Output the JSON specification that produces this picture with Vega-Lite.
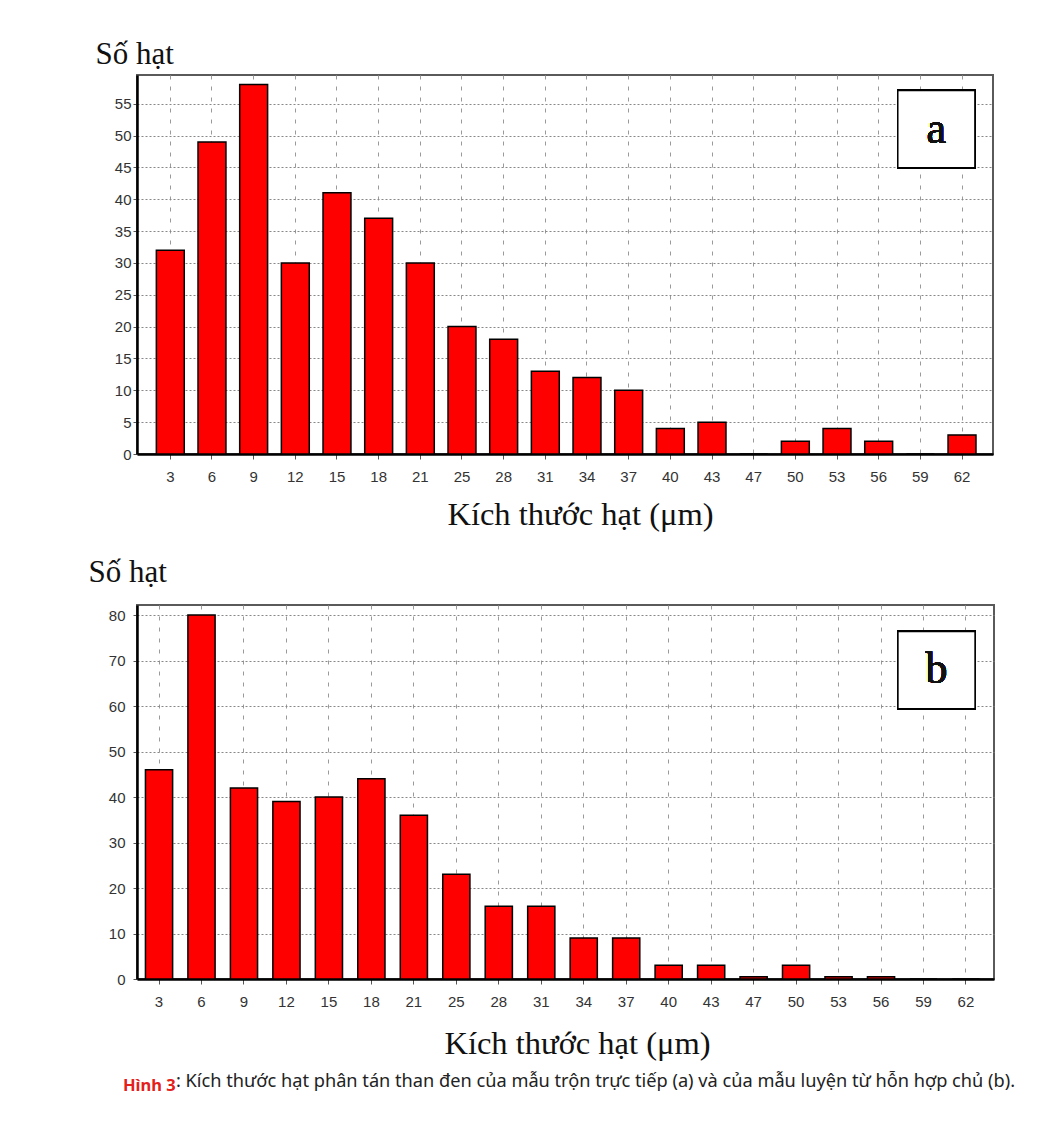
{
  "$schema": "https://vega.github.io/schema/vega-lite/v6.json",
  "background": "white",
  "padding": {"left": 87, "top": 37, "right": 40, "bottom": 30},
  "columns": 1,
  "spacing": 23,
  "title": {
    "text": ": Kích thước hạt phân tán than đen của mẫu trộn trực tiếp (a) và của mẫu luyện từ hỗn hợp chủ (b).",
    "orient": "bottom",
    "anchor": "start",
    "frame": "group",
    "dx": 39,
    "dy": -30,
    "offset": 8,
    "font": "Noto Sans",
    "fontSize": 18.2,
    "fontWeight": "normal",
    "color": "#222222"
  },
  "concat": [
    {
      "width": 856,
      "height": 379,
      "data": {"values": [
        {"size": 3, "count": 32}, {"size": 6, "count": 49}, {"size": 9, "count": 58}, {"size": 12, "count": 30},
        {"size": 15, "count": 41}, {"size": 18, "count": 37}, {"size": 21, "count": 30}, {"size": 25, "count": 20},
        {"size": 28, "count": 18}, {"size": 31, "count": 13}, {"size": 34, "count": 12}, {"size": 37, "count": 10},
        {"size": 40, "count": 4}, {"size": 43, "count": 5}, {"size": 47, "count": 0}, {"size": 50, "count": 2},
        {"size": 53, "count": 4}, {"size": 56, "count": 2}, {"size": 59, "count": 0}, {"size": 62, "count": 3}
      ]},
      "layer": [
        {
          "mark": {"type": "bar", "fill": "#ff0000", "stroke": "#000000", "strokeWidth": 1.5},
          "encoding": {
            "x": {
              "field": "size", "type": "ordinal",
              "scale": {"paddingInner": 0.33, "paddingOuter": 0.4365, "align": 0.532},
              "axis": {
                "title": "Kích thước hạt (μm)",
                "titleFont": "Liberation Serif", "titleFontSize": 32.5, "titleFontWeight": "normal", "titleColor": "#111111",
                "titleX": 443, "titleY": 70, "titleBaseline": "alphabetic", "titleAlign": "center",
                "labelAngle": 0, "labelFont": "Liberation Sans", "labelFontSize": 15, "labelColor": "#333333",
                "labelPadding": 10, "tickSize": 5, "tickColor": "#555555",
                "domainColor": "#000000", "domainWidth": 2.5,
                "grid": true, "gridColor": "#9a9a9a", "gridDash": [4, 7], "gridWidth": 1
              }
            },
            "y": {
              "field": "count", "type": "quantitative",
              "scale": {"domain": [0, 59.5], "nice": false},
              "axis": {
                "title": "Số hạt", "titleAngle": 0, "titleAlign": "left", "titleBaseline": "alphabetic",
                "titleX": -42, "titleY": -12,
                "titleFont": "Liberation Serif", "titleFontSize": 31, "titleFontWeight": "normal", "titleColor": "#111111",
                "values": [0, 5, 10, 15, 20, 25, 30, 35, 40, 45, 50, 55],
                "labelFont": "Liberation Sans", "labelFontSize": 15, "labelColor": "#333333",
                "labelPadding": 2, "tickSize": 4, "tickColor": "#555555",
                "domainColor": "#000000", "domainWidth": 2.5,
                "grid": true, "gridColor": "#888888", "gridDash": [2, 2], "gridWidth": 1
              }
            }
          }
        },
        {
          "mark": {"type": "point", "shape": "square", "size": 5950, "filled": true, "fill": "#ffffff", "stroke": "#000000", "strokeWidth": 1.5, "opacity": 1, "xOffset": 16},
          "encoding": {
            "x": {
              "datum": 59, "type": "ordinal",
              "axis": {
                "title": "Kích thước hạt (μm)",
                "titleFont": "Liberation Serif", "titleFontSize": 32.5, "titleFontWeight": "normal", "titleColor": "#111111",
                "titleX": 443, "titleY": 70, "titleBaseline": "alphabetic", "titleAlign": "center",
                "labelAngle": 0, "labelFont": "Liberation Sans", "labelFontSize": 15, "labelColor": "#333333",
                "labelPadding": 10, "tickSize": 5, "tickColor": "#555555",
                "domainColor": "#000000", "domainWidth": 2.5,
                "grid": true, "gridColor": "#9a9a9a", "gridDash": [4, 7], "gridWidth": 1
              }
            },
            "y": {
              "datum": 51, "type": "quantitative",
              "axis": {
                "title": "Số hạt", "titleAngle": 0, "titleAlign": "left", "titleBaseline": "alphabetic",
                "titleX": -42, "titleY": -12,
                "titleFont": "Liberation Serif", "titleFontSize": 31, "titleFontWeight": "normal", "titleColor": "#111111",
                "values": [0, 5, 10, 15, 20, 25, 30, 35, 40, 45, 50, 55],
                "labelFont": "Liberation Sans", "labelFontSize": 15, "labelColor": "#333333",
                "labelPadding": 2, "tickSize": 4, "tickColor": "#555555",
                "domainColor": "#000000", "domainWidth": 2.5,
                "grid": true, "gridColor": "#888888", "gridDash": [2, 2], "gridWidth": 1
              }
            }
          }
        },
        {
          "mark": {"type": "text", "text": "a", "font": "Liberation Serif", "fontSize": 44, "align": "center", "baseline": "alphabetic", "fill": "#111111", "xOffset": 16},
          "encoding": {
            "x": {
              "datum": 59, "type": "ordinal",
              "axis": {
                "title": "Kích thước hạt (μm)",
                "titleFont": "Liberation Serif", "titleFontSize": 32.5, "titleFontWeight": "normal", "titleColor": "#111111",
                "titleX": 443, "titleY": 70, "titleBaseline": "alphabetic", "titleAlign": "center",
                "labelAngle": 0, "labelFont": "Liberation Sans", "labelFontSize": 15, "labelColor": "#333333",
                "labelPadding": 10, "tickSize": 5, "tickColor": "#555555",
                "domainColor": "#000000", "domainWidth": 2.5,
                "grid": true, "gridColor": "#9a9a9a", "gridDash": [4, 7], "gridWidth": 1
              }
            },
            "y": {
              "datum": 48.8, "type": "quantitative",
              "axis": {
                "title": "Số hạt", "titleAngle": 0, "titleAlign": "left", "titleBaseline": "alphabetic",
                "titleX": -42, "titleY": -12,
                "titleFont": "Liberation Serif", "titleFontSize": 31, "titleFontWeight": "normal", "titleColor": "#111111",
                "values": [0, 5, 10, 15, 20, 25, 30, 35, 40, 45, 50, 55],
                "labelFont": "Liberation Sans", "labelFontSize": 15, "labelColor": "#333333",
                "labelPadding": 2, "tickSize": 4, "tickColor": "#555555",
                "domainColor": "#000000", "domainWidth": 2.5,
                "grid": true, "gridColor": "#888888", "gridDash": [2, 2], "gridWidth": 1
              }
            }
          }
        }
      ]
    },
    {
      "width": 857,
      "height": 374,
      "title": {
        "text": "Hình 3",
        "orient": "bottom",
        "anchor": "start",
        "frame": "group",
        "dx": -14,
        "offset": 18,
        "font": "Noto Sans",
        "fontSize": 16.5,
        "fontWeight": "bold",
        "color": "#e3201b"
      },
      "data": {"values": [
        {"size": 3, "count": 46}, {"size": 6, "count": 80}, {"size": 9, "count": 42}, {"size": 12, "count": 39},
        {"size": 15, "count": 40}, {"size": 18, "count": 44}, {"size": 21, "count": 36}, {"size": 25, "count": 23},
        {"size": 28, "count": 16}, {"size": 31, "count": 16}, {"size": 34, "count": 9}, {"size": 37, "count": 9},
        {"size": 40, "count": 3}, {"size": 43, "count": 3}, {"size": 47, "count": 0.5}, {"size": 50, "count": 3},
        {"size": 53, "count": 0.5}, {"size": 56, "count": 0.5}, {"size": 59, "count": 0}, {"size": 62, "count": 0}
      ]},
      "layer": [
        {
          "mark": {"type": "bar", "fill": "#ff0000", "stroke": "#000000", "strokeWidth": 1.5},
          "encoding": {
            "x": {
              "field": "size", "type": "ordinal",
              "scale": {"paddingInner": 0.36, "paddingOuter": 0.2695, "align": 0.369},
              "axis": {
                "title": "Kích thước hạt (μm)",
                "titleFont": "Liberation Serif", "titleFontSize": 32.5, "titleFontWeight": "normal", "titleColor": "#111111",
                "titleX": 440, "titleY": 74, "titleBaseline": "alphabetic", "titleAlign": "center",
                "labelAngle": 0, "labelFont": "Liberation Sans", "labelFontSize": 15, "labelColor": "#333333",
                "labelPadding": 10, "tickSize": 5, "tickColor": "#555555",
                "domainColor": "#000000", "domainWidth": 2.5,
                "grid": true, "gridColor": "#9a9a9a", "gridDash": [4, 7], "gridWidth": 1
              }
            },
            "y": {
              "field": "count", "type": "quantitative",
              "scale": {"domain": [0, 82.2], "nice": false},
              "axis": {
                "title": "Số hạt", "titleAngle": 0, "titleAlign": "left", "titleBaseline": "alphabetic",
                "titleX": -49, "titleY": -24,
                "titleFont": "Liberation Serif", "titleFontSize": 31, "titleFontWeight": "normal", "titleColor": "#111111",
                "values": [0, 10, 20, 30, 40, 50, 60, 70, 80],
                "labelFont": "Liberation Sans", "labelFontSize": 15, "labelColor": "#333333",
                "labelPadding": 8, "tickSize": 4, "tickColor": "#555555",
                "domainColor": "#000000", "domainWidth": 2.5,
                "grid": true, "gridColor": "#888888", "gridDash": [2, 2], "gridWidth": 1
              }
            }
          }
        },
        {
          "mark": {"type": "point", "shape": "square", "size": 5950, "filled": true, "fill": "#ffffff", "stroke": "#000000", "strokeWidth": 1.5, "opacity": 1, "xOffset": 13},
          "encoding": {
            "x": {
              "datum": 59, "type": "ordinal",
              "axis": {
                "title": "Kích thước hạt (μm)",
                "titleFont": "Liberation Serif", "titleFontSize": 32.5, "titleFontWeight": "normal", "titleColor": "#111111",
                "titleX": 440, "titleY": 74, "titleBaseline": "alphabetic", "titleAlign": "center",
                "labelAngle": 0, "labelFont": "Liberation Sans", "labelFontSize": 15, "labelColor": "#333333",
                "labelPadding": 10, "tickSize": 5, "tickColor": "#555555",
                "domainColor": "#000000", "domainWidth": 2.5,
                "grid": true, "gridColor": "#9a9a9a", "gridDash": [4, 7], "gridWidth": 1
              }
            },
            "y": {
              "datum": 67.9, "type": "quantitative",
              "axis": {
                "title": "Số hạt", "titleAngle": 0, "titleAlign": "left", "titleBaseline": "alphabetic",
                "titleX": -49, "titleY": -24,
                "titleFont": "Liberation Serif", "titleFontSize": 31, "titleFontWeight": "normal", "titleColor": "#111111",
                "values": [0, 10, 20, 30, 40, 50, 60, 70, 80],
                "labelFont": "Liberation Sans", "labelFontSize": 15, "labelColor": "#333333",
                "labelPadding": 8, "tickSize": 4, "tickColor": "#555555",
                "domainColor": "#000000", "domainWidth": 2.5,
                "grid": true, "gridColor": "#888888", "gridDash": [2, 2], "gridWidth": 1
              }
            }
          }
        },
        {
          "mark": {"type": "text", "text": "b", "font": "Liberation Serif", "fontSize": 44, "align": "center", "baseline": "alphabetic", "fill": "#111111", "xOffset": 13},
          "encoding": {
            "x": {
              "datum": 59, "type": "ordinal",
              "axis": {
                "title": "Kích thước hạt (μm)",
                "titleFont": "Liberation Serif", "titleFontSize": 32.5, "titleFontWeight": "normal", "titleColor": "#111111",
                "titleX": 440, "titleY": 74, "titleBaseline": "alphabetic", "titleAlign": "center",
                "labelAngle": 0, "labelFont": "Liberation Sans", "labelFontSize": 15, "labelColor": "#333333",
                "labelPadding": 10, "tickSize": 5, "tickColor": "#555555",
                "domainColor": "#000000", "domainWidth": 2.5,
                "grid": true, "gridColor": "#9a9a9a", "gridDash": [4, 7], "gridWidth": 1
              }
            },
            "y": {
              "datum": 65, "type": "quantitative",
              "axis": {
                "title": "Số hạt", "titleAngle": 0, "titleAlign": "left", "titleBaseline": "alphabetic",
                "titleX": -49, "titleY": -24,
                "titleFont": "Liberation Serif", "titleFontSize": 31, "titleFontWeight": "normal", "titleColor": "#111111",
                "values": [0, 10, 20, 30, 40, 50, 60, 70, 80],
                "labelFont": "Liberation Sans", "labelFontSize": 15, "labelColor": "#333333",
                "labelPadding": 8, "tickSize": 4, "tickColor": "#555555",
                "domainColor": "#000000", "domainWidth": 2.5,
                "grid": true, "gridColor": "#888888", "gridDash": [2, 2], "gridWidth": 1
              }
            }
          }
        }
      ]
    }
  ],
  "config": {
    "view": {"stroke": "#5a5a5a", "strokeWidth": 2}
  }
}
